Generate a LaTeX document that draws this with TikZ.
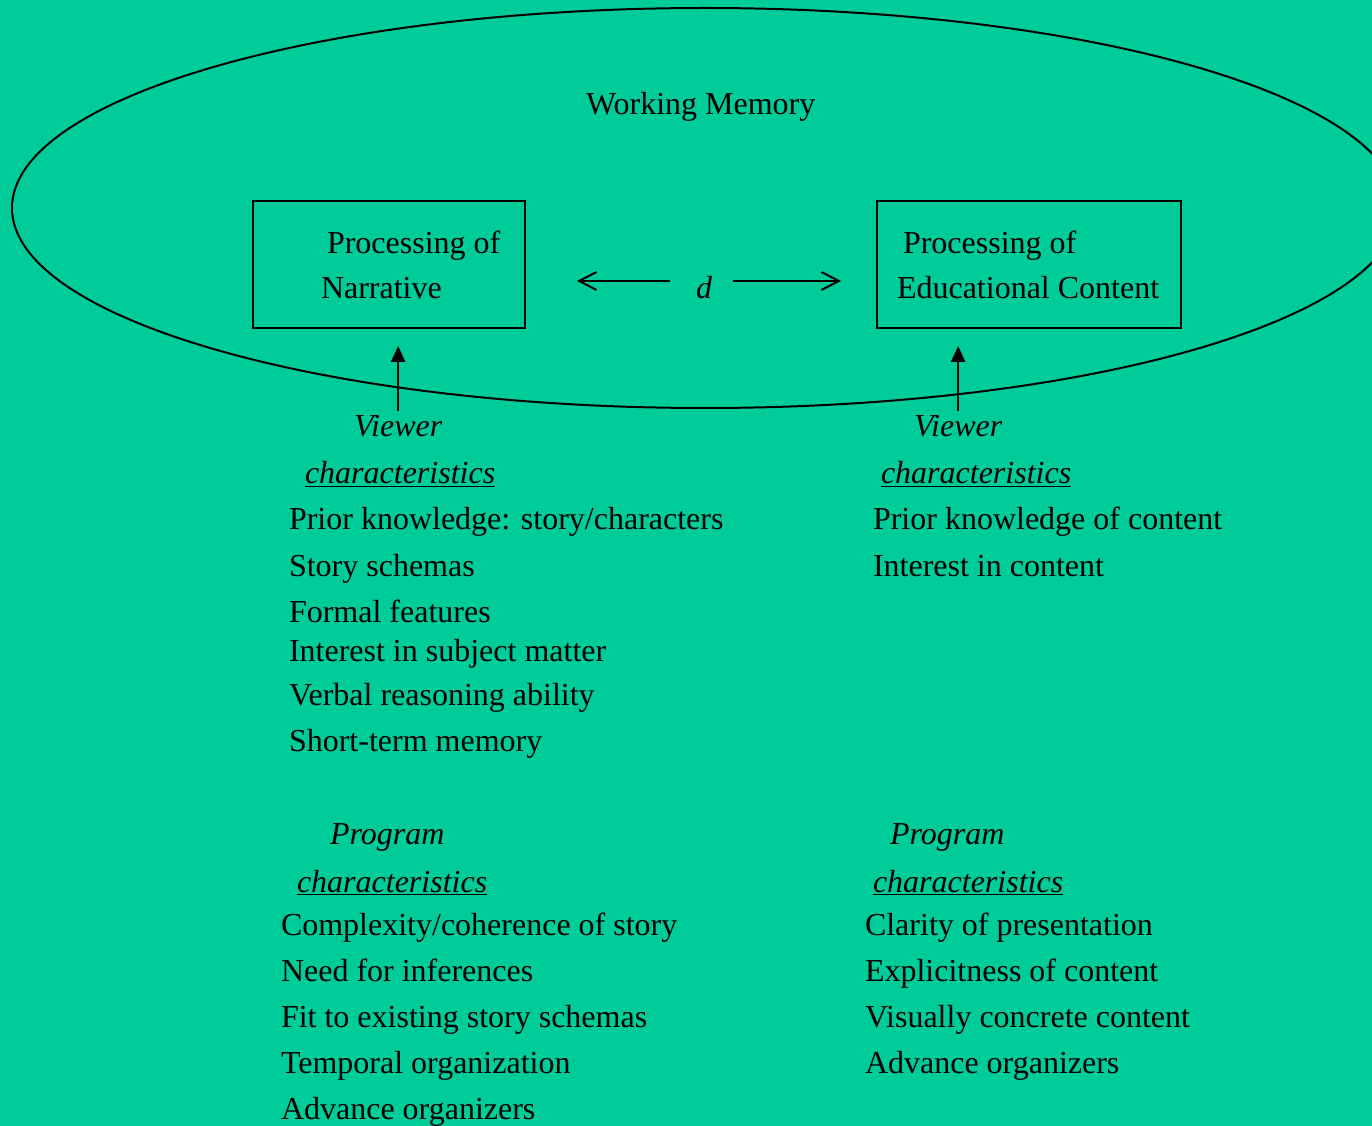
\documentclass[tikz,border=0pt]{standalone}
\usepackage{fontspec}
\setmainfont{Liberation Serif}
\usetikzlibrary{arrows.meta}
\definecolor{memgreen}{RGB}{0,204,153}
\tikzset{every picture/.style={line width=1.5pt}}
\tikzset{
  txt/.style={anchor=base west,inner sep=0pt,xshift=-0.75pt,yshift=-1.5pt,font=\fontsize{24}{28}\selectfont},
  itxt/.style={txt,font=\fontsize{24}{28}\selectfont\itshape},
  procbox/.style={draw,inner sep=0pt,minimum height=95.25pt},
  openarrow/.style={-{Straight Barb[length=13pt,width=13.5pt,line width=1.5pt]}},
  uparrow/.style={line width=2pt,-{Triangle[length=12pt,width=10.5pt]}}
}

\begin{document}
\begin{tikzpicture}[x=0.75pt,y=0.75pt,yscale=-1,xscale=1]
\useasboundingbox (0,0) rectangle (1372,1126);
\fill [memgreen] (0,0) rectangle (1372,1126);
\clip (0,0) rectangle (1372,1126);

%Shape: Ellipse
\draw (705,208) ellipse [x radius=693, y radius=200];
% Text Node
\node (wm) [txt] at (586,113) {Working Memory};

%Shape: Rectangle
\node (boxL) [procbox,minimum width=204pt] at (389,264.5) {};
\node (boxR) [procbox,minimum width=228pt] at (1029,264.5) {};
% Text Node
\node (pnL) [txt] at (327,252) {Processing of};
\node (pnL2) [txt] at (321,297) {Narrative};
\node (pnR) [txt] at (903,252) {Processing of};
\node (pnR2) [txt] at (897,297) {Educational Content};

% Text Node
\node (d) [itxt,anchor=base] at (705,297) {d};
\coordinate (dLs) at (670,281);
\coordinate (dLe) at (577,281);
\coordinate (dRs) at (733,281);
\coordinate (dRe) at (841,281);
%Straight Lines
\draw [openarrow] (dLs) -- (dLe);
\draw [openarrow] (dRs) -- (dRe);

% Viewer characteristics
\node (vwL) [itxt] at (354,435) {Viewer};
\node (vcL) [itxt] at (305,482) {\underline{characteristics}};
\node (vwR) [itxt] at (914,435) {Viewer};
\node (vcR) [itxt] at (881,482) {\underline{characteristics}};
%Straight Lines
\draw [uparrow,shorten >=12.75pt] ([yshift=-2.5pt]vwL.north) -- (vwL.north |- boxL.south);
\draw [uparrow,shorten >=12.75pt] ([yshift=-2.5pt]vwR.north) -- (vwR.north |- boxR.south);

% Text Node
\node (vl1) [txt] at (289,528) {Prior knowledge: story/characters};
\node (vl2) [txt] at (289,575) {Story schemas};
\node (vl3) [txt] at (289,621) {Formal features};
\node (vl4) [txt] at (289,660) {Interest in subject matter};
\node (vl5) [txt] at (289,704) {Verbal reasoning ability};
\node (vl6) [txt] at (289,750) {Short-term memory};
\node (vr1) [txt] at (873,528) {Prior knowledge of content};
\node (vr2) [txt] at (873,575) {Interest in content};

% Program characteristics
\node (pgL) [itxt] at (330,842) {Program};
\node (pcL) [itxt] at (297,890) {\underline{characteristics}};
\node (pgR) [itxt] at (890,842) {Program};
\node (pcR) [itxt] at (873,890) {\underline{characteristics}};

% Text Node
\node (pl1) [txt] at (281,933) {Complexity/coherence of story};
\node (pl2) [txt] at (281,979) {Need for inferences};
\node (pl3) [txt] at (281,1025) {Fit to existing story schemas};
\node (pl4) [txt] at (281,1071) {Temporal organization};
\node (pl5) [txt] at (281,1117) {Advance organizers};
\node (pr1) [txt] at (865,933) {Clarity of presentation};
\node (pr2) [txt] at (865,979) {Explicitness of content};
\node (pr3) [txt] at (865,1025) {Visually concrete content};
\node (pr4) [txt] at (865,1071) {Advance organizers};

\end{tikzpicture}
\end{document}
